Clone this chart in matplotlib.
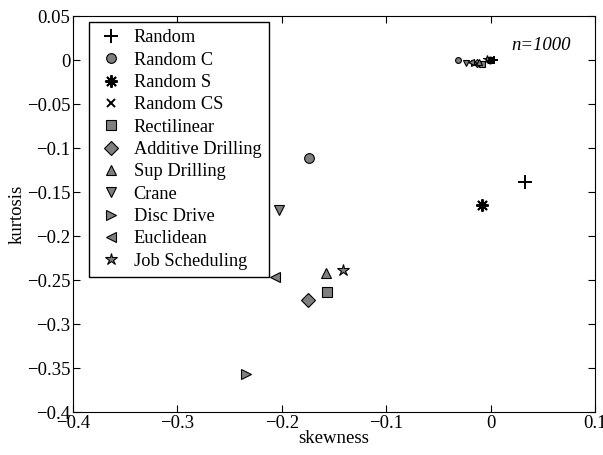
import numpy as np
import matplotlib
matplotlib.use("Agg")
import matplotlib.pyplot as plt

plt.rcParams.update({"font.family": "Liberation Serif", "font.size": 13.5})

# series names and markers
names = ["Random", "Random C", "Random S", "Random CS", "Rectilinear",
         "Additive Drilling", "Sup Drilling", "Crane", "Disc Drive",
         "Euclidean", "Job Scheduling"]
markers = ["+", "o", (8, 2, 0), "x", "s", "D", "^", "v", ">", "<", "*"]

# large-n cluster (n=1000) near the origin
skew_big = [0.003, -0.031, -0.001, -0.002, -0.008, -0.013, -0.011, -0.024, -0.016, -0.019, -0.004]
kurt_big = [0.000, 0.000, 0.000, -0.001, -0.004, -0.003, -0.002, -0.003, -0.003, -0.002, 0.001]

# smaller instances
skew_small = [0.033, -0.174, -0.008, np.nan, -0.157, -0.175, -0.158, -0.203, -0.234, -0.207, -0.141]
kurt_small = [-0.138, -0.111, -0.165, np.nan, -0.264, -0.273, -0.242, -0.170, -0.357, -0.246, -0.239]

GRAY = "#7f7f7f"

fig = plt.figure(figsize=(6.03, 4.55), dpi=100)
ax = fig.add_axes([0.121, 0.0945, 0.866, 0.870])

for i, (nm, mk) in enumerate(zip(names, markers)):
    plain = nm in ("Random", "Random S", "Random CS")
    face = "black" if plain else GRAY
    if nm == "Random":
        ms = 10
    elif nm in ("Random S", "Job Scheduling"):
        ms = 9
    elif nm == "Random CS":
        ms = 6
    else:
        ms = 7
    kw = dict(marker=mk, linestyle="none", markeredgecolor="black",
              markerfacecolor=face, markeredgewidth=1.4 if plain else 0.8)
    ax.plot(skew_small[i], kurt_small[i], markersize=ms, label=nm, **kw)
    ax.plot(skew_big[i], kurt_big[i], markersize=ms * 0.6, **kw)

ax.set_xlim(-0.4, 0.1)
ax.set_ylim(-0.4, 0.05)
ax.set_xticks(np.arange(-0.4, 0.11, 0.1))
ax.set_xticklabels(["\u22120.4", "\u22120.3", "\u22120.2", "\u22120.1", "0", "0.1"])
ax.set_yticks(np.arange(-0.4, 0.051, 0.05))
ax.set_yticklabels(["\u22120.4", "\u22120.35", "\u22120.3", "\u22120.25", "\u22120.2", "\u22120.15",
                    "\u22120.1", "\u22120.05", "0", "0.05"])
ax.tick_params(direction="in", top=True, right=True, length=5, width=0.8, pad=2)
ax.set_xlabel("skewness", labelpad=-1)
ax.set_ylabel("kurtosis", labelpad=1)

ax.text(0.897, 0.927, "n=1000", transform=ax.transAxes, ha="center", va="center",
        style="italic")

leg = ax.legend(loc="upper left", bbox_to_anchor=(0.03, 0.985), borderaxespad=0,
                fancybox=False, edgecolor="black", framealpha=1, numpoints=1, fontsize=13.2,
                handletextpad=0.45, labelspacing=0.29, borderpad=0.4, handlelength=1.6)
leg.get_frame().set_linewidth(1.0)

fig.savefig("out.png", dpi=100)
